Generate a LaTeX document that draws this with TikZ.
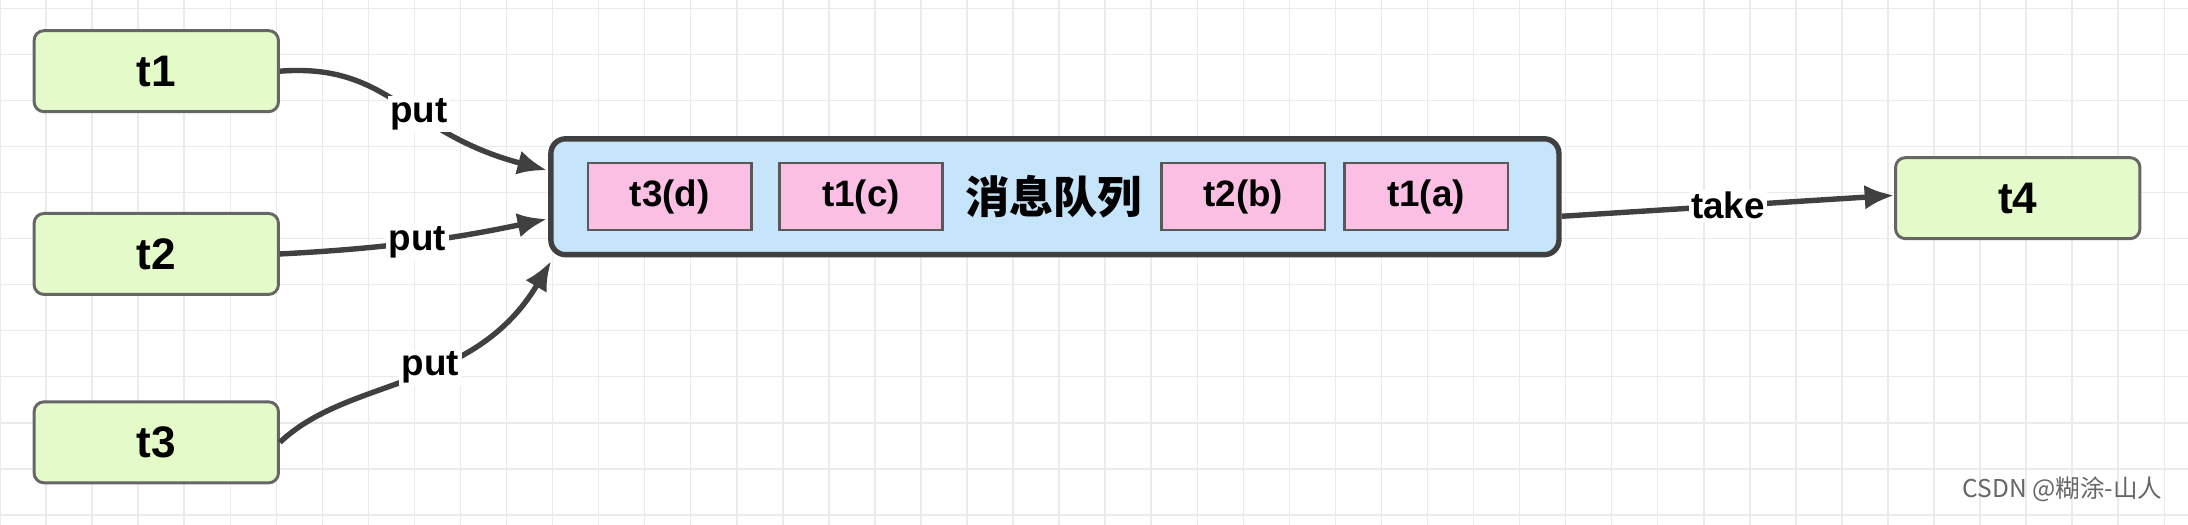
\documentclass[tikz,border=0pt]{standalone}
\usepackage{fontspec}
\usetikzlibrary{arrows.meta}
\setmainfont{Liberation Sans}
\newfontfamily\cjk{Noto Sans CJK SC}
\begin{document}
\begin{tikzpicture}[x=0.01cm,y=-0.01cm,
 thr/.style={draw=gray!80!black,fill={rgb,255:red,228;green,250;blue,200},line width=0.6pt,rounded corners=2pt,minimum width=1.75cm,minimum height=0.58cm,font=\bfseries\fontsize{9}{10}\selectfont},
 msg/.style={draw=gray!70!black,fill=magenta!25,line width=0.5pt,minimum width=1.17cm,minimum height=0.43cm,font=\bfseries\fontsize{7.5}{9}\selectfont},
 arr/.style={draw=black!75,line width=1.1pt,-{Latex[length=6pt,width=5pt]}},
 lab/.style={fill=white,inner sep=0.5pt,font=\bfseries\fontsize{7.5}{9}\selectfont}]
\useasboundingbox (0,0) rectangle (1568,376);
\fill[white] (0,0) rectangle (1568,376);
\foreach \x in {0,33,...,1568} \draw[black!8,line width=0.3pt] (\x,0) -- (\x,376);
\foreach \y in {6,39,...,376} \draw[black!8,line width=0.3pt] (0,\y) -- (1568,\y);
\node[thr] (t1) at (112,51) {t1};
\node[thr] (t2) at (112,182) {t2};
\node[thr] (t3) at (112,317) {t3};
\node[thr] (t4) at (1446,142) {t4};
\node[draw=black!75,fill={rgb,255:red,198;green,228;blue,250},line width=1.1pt,rounded corners=3pt,minimum width=7.22cm,minimum height=0.83cm] (q) at (756,141) {};
\node[msg] (m1) at (480,141) {t3(d)};
\node[msg] (m2) at (617,141) {t1(c)};
\node[font=\cjk\bfseries\fontsize{9}{10}\selectfont] (qt) at (755,141) {消息队列};
\node[msg] (m3) at (891,141) {t2(b)};
\node[msg] (m4) at (1022,141) {t1(a)};
\coordinate (e1) at (392,122);
\coordinate (e2) at (392,157);
\coordinate (e3) at (395,187);
\draw[arr] (t1.east) .. controls (280,45) and (290,95) .. node[lab,pos=0.58] {put} (e1);
\draw[arr] (t2.east) .. controls (280,178) and (330,170) .. node[lab,pos=0.48] {put} (e2);
\draw[arr] (t3.east) .. controls (250,270) and (340,280) .. node[lab,pos=0.56] {put} (e3);
\draw[arr] (q.east |- 0,155) coordinate (qs) -- node[lab,pos=0.5] {take} (t4.west |- 0,140);
\node[anchor=south east,text=black!60,font=\cjk\fontsize{5}{6}\selectfont] (wm) at (1562,372) {CSDN @糊涂-山人};
\end{tikzpicture}
\end{document}
